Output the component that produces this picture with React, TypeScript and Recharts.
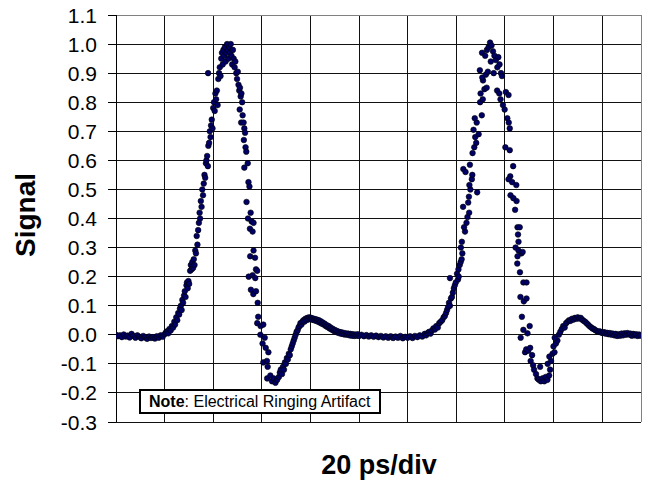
import {
  CartesianGrid,
  ReferenceLine,
  Scatter,
  ScatterChart,
  XAxis,
  YAxis,
} from "recharts";

// time in ps (20 ps per division), signal normalised to the pulse peak
const baselineStart: [number, number][] = [
  [0, 0.0], [0.8, -0.005], [1.6, -0.002], [2.4, -0.008], [3.2, 0.001], [4, -0.006],
  [4.8, -0.003], [5.6, -0.009], [6.4, 0.003], [7.2, -0.004], [8, -0.01], [8.8, -0.002],
  [9.6, -0.007], [10.4, -0.012], [11.2, -0.004], [12, -0.009], [12.8, -0.014], [13.6, -0.006],
  [14.4, -0.011], [15.2, -0.008], [16, -0.013], [16.8, -0.005], [17.6, -0.01], [18.4, -0.002],
  [19.2, -0.007], [20, 0.002],
];

const pulse1Rise: [number, number][] = [
  [20.5, 0.008], [21, 0.012], [21.5, 0.005], [22, 0.02], [22.5, 0.015], [23, 0.03],
  [23.5, 0.025], [24, 0.045], [24.3, 0.035], [24.8, 0.06], [25.2, 0.05], [25.6, 0.075],
  [26, 0.07], [26.3, 0.09], [26.7, 0.1], [27, 0.085], [27.3, 0.12], [27.6, 0.11],
  [28, 0.135], [28.3, 0.15], [28.6, 0.13], [29, 0.17], [29.2, 0.18], [29.5, 0.16],
  [29.8, 0.185], [30.1, 0.175], [30.5, 0.22], [30.8, 0.24], [31.1, 0.225], [31.4, 0.25],
  [31.7, 0.23], [32, 0.26], [32.3, 0.24], [32.6, 0.29], [32.9, 0.28], [33.2, 0.34],
  [33.5, 0.31], [33.8, 0.36], [34.1, 0.385], [34.4, 0.42], [34.6, 0.4], [34.9, 0.46],
  [35.2, 0.44], [35.5, 0.5], [35.8, 0.48], [36.1, 0.52], [36.4, 0.55], [36.7, 0.54],
  [37, 0.59], [37.2, 0.6], [37.5, 0.615], [37.8, 0.58], [38, 0.65], [38.3, 0.66],
  [38.6, 0.7], [38.9, 0.68], [39.1, 0.72], [39.4, 0.74], [39.7, 0.71], [40, 0.78],
  [40.3, 0.8], [40.6, 0.77], [40.9, 0.83], [41.2, 0.81], [41.5, 0.84], [37.9, 0.9],
  [41.8, 0.79], [42.1, 0.88], [42.4, 0.9], [42.7, 0.92], [43, 0.89], [43.3, 0.95],
  [43.6, 0.97], [43.9, 0.93], [44.2, 0.98], [44.5, 0.96], [44.8, 0.99], [45.1, 0.94],
  [45.4, 0.97], [45.7, 1.0], [46, 0.98], [46.3, 0.95], [46.6, 0.99], [46.9, 0.97],
  [47.2, 1.0], [47.5, 0.96], [47.8, 0.93], [48.1, 0.98],
];

const pulse1Fall: [number, number][] = [
  [48.4, 0.95], [48.8, 0.92], [49.1, 0.94], [49.5, 0.9], [49.8, 0.88], [50.1, 0.905],
  [50.4, 0.86], [50.7, 0.84], [51, 0.85], [51.3, 0.82], [51.6, 0.83], [51.9, 0.8],
  [50.9, 0.775], [52.1, 0.755], [51.5, 0.73], [52.5, 0.73], [52.8, 0.71], [53.1, 0.695],
  [52.6, 0.67], [53.3, 0.645], [53.6, 0.63], [54.2, 0.59], [52.8, 0.575], [54.5, 0.525],
  [54.9, 0.51], [53.7, 0.457], [55.4, 0.42], [54.3, 0.4], [55.8, 0.39], [56.6, 0.385],
  [55.1, 0.365], [56.2, 0.355], [56.6, 0.29], [55.2, 0.27], [57.2, 0.265], [57.6, 0.225],
  [58.1, 0.22], [54.6, 0.2], [56.2, 0.205], [57.3, 0.195], [55.5, 0.155], [56.5, 0.14],
  [57.6, 0.15], [58.3, 0.11], [58.5, 0.062], [58.1, 0.04], [59.5, 0.03], [60.6, 0.035],
  [59.4, 0.0], [61.2, -0.01], [60.3, -0.03], [61.6, -0.045], [62.7, -0.06], [60.6, -0.095],
  [62.1, -0.09], [62.4, -0.11], [62.2, -0.15], [63.5, -0.14], [64.2, -0.16], [64.9, -0.15],
  [65.6, -0.165], [66.3, -0.155], [67, -0.145],
];

const ringing1: [number, number][] = [
  [67.4, -0.13], [67.8, -0.12], [68.3, -0.135], [68.7, -0.11], [69.1, -0.12], [69.5, -0.095],
  [69.9, -0.1], [70.3, -0.08], [70.7, -0.085], [71.1, -0.065], [71.5, -0.07], [71.9, -0.05],
  [72.3, -0.04], [72.7, -0.03], [73.1, -0.02], [73.5, -0.01], [73.9, 0.0], [74.3, 0.01],
  [74.7, 0.015], [75.1, 0.025], [75.5, 0.03], [75.9, 0.04], [76.3, 0.035], [76.7, 0.045],
  [77.1, 0.05], [77.5, 0.045], [77.9, 0.055], [78.3, 0.05], [78.7, 0.058], [79.1, 0.053],
  [79.5, 0.06], [79.9, 0.055], [80.3, 0.058], [80.7, 0.052], [81.1, 0.056], [81.5, 0.05],
  [81.9, 0.054], [82.3, 0.048], [82.7, 0.052], [83.1, 0.045], [83.5, 0.05], [83.9, 0.042],
  [84.3, 0.046], [84.7, 0.038], [85.1, 0.042], [85.5, 0.035], [85.9, 0.038], [86.3, 0.03],
  [86.7, 0.033], [87.1, 0.026], [87.5, 0.03], [87.9, 0.022], [88.3, 0.025], [88.7, 0.018],
  [89.1, 0.021], [89.5, 0.014], [89.9, 0.017], [90.3, 0.011], [90.7, 0.014], [91.1, 0.008],
  [91.5, 0.011],
];

const baselineMid: [number, number][] = [
  [92, 0.005], [92.5, 0.009], [93, 0.003], [93.5, 0.007], [94, 0.001], [94.5, 0.005],
  [95, 0.0], [95.5, 0.004], [96, -0.002], [96.5, 0.003], [97, -0.003], [97.5, 0.002],
  [98, -0.004], [98.5, 0.001], [99, -0.003], [99.5, 0.002], [100, -0.004], [101, 0.0],
  [102, -0.005], [103, -0.001], [104, -0.006], [105, -0.002], [106, -0.007], [107, -0.003],
  [108, -0.008], [109, -0.004], [110, -0.009], [111, -0.005], [112, -0.01], [113, -0.005],
  [114, -0.011], [115, -0.006], [116, -0.01], [117, -0.004], [118, -0.012], [119, -0.007],
  [120, -0.01], [121, -0.005], [122, -0.011], [123, -0.004], [124, -0.008], [125, -0.002],
  [126, -0.006],
];

const pulse2Rise: [number, number][] = [
  [127, 0.003], [127.6, -0.002], [128.2, 0.006], [128.8, 0.01], [129.4, 0.004], [130, 0.015],
  [130.6, 0.022], [131.2, 0.018], [131.8, 0.03], [132.4, 0.025], [133, 0.04], [133.6, 0.045],
  [134.2, 0.05], [134.8, 0.06], [135.3, 0.065], [135.8, 0.075], [136.2, 0.085], [136.6, 0.095],
  [137, 0.11], [137.4, 0.1], [137.8, 0.125], [138.2, 0.13], [138.6, 0.145], [139, 0.16],
  [139.4, 0.17], [137.4, 0.195], [139.8, 0.18], [140.3, 0.21], [140.7, 0.19], [141, 0.2],
  [140.9, 0.225], [141.4, 0.24], [141.8, 0.25], [142.2, 0.26], [142.5, 0.28], [141.9, 0.3],
  [142.3, 0.32], [143.6, 0.355], [143.2, 0.37], [144.2, 0.385], [144.6, 0.405], [145.3, 0.42],
  [142.8, 0.44], [144.9, 0.455], [145.2, 0.475], [145.8, 0.5], [148.6, 0.49], [145.4, 0.515],
  [146.4, 0.535], [146.6, 0.55], [142.9, 0.57], [143.8, 0.56], [145.6, 0.585], [146.7, 0.625],
  [147.4, 0.645], [148.2, 0.66], [147.8, 0.68], [149.2, 0.69], [147.1, 0.705], [148.4, 0.73],
  [147.6, 0.745], [150.5, 0.755], [149.8, 0.8], [150.9, 0.81], [150, 0.83], [151.6, 0.845],
  [152.5, 0.85], [151, 0.875], [150.7, 0.885], [152.2, 0.895], [153, 0.905], [149.7, 0.91],
  [150.6, 0.97], [151.9, 0.96], [152.6, 0.98], [153.3, 0.99], [153.9, 1.005], [154.5, 0.995],
  [155.1, 0.975], [155.7, 0.96], [154.2, 0.94], [156.3, 0.945], [156.9, 0.92], [155.4, 0.9],
];

const pulse2Fall: [number, number][] = [
  [157.3, 0.955], [157.8, 0.93], [158.4, 0.9], [158.8, 0.89], [156.8, 0.84], [157.7, 0.83],
  [160.4, 0.835], [161.5, 0.825], [158.2, 0.81], [159.2, 0.79], [159.9, 0.775], [161, 0.745],
  [161.6, 0.73], [162, 0.71], [160.2, 0.645], [162, 0.635], [163.4, 0.58], [162.2, 0.545],
  [161.5, 0.535], [163, 0.525], [164.7, 0.515], [162.3, 0.48], [163.5, 0.47], [164.8, 0.46],
  [164.2, 0.43], [165.2, 0.37], [166.1, 0.37], [165.4, 0.345], [165.6, 0.32], [164.4, 0.3],
  [165.6, 0.29], [166.8, 0.28], [167.3, 0.285], [165.2, 0.27], [165.1, 0.245], [166.2, 0.215],
  [167.6, 0.18], [168.9, 0.18], [166.4, 0.13], [167.8, 0.115], [168.9, 0.125], [167, 0.062],
  [167.6, 0.017], [166.5, -0.01], [169.3, 0.005], [170.2, 0.03], [168.3, -0.06],
];

const ringing2: [number, number][] = [
  [168.8, -0.05], [169.6, -0.055], [170.4, -0.045], [171.2, -0.07], [170.6, -0.09], [171.6, -0.105],
  [172, -0.12], [172.8, -0.135], [173.4, -0.15], [174, -0.155], [174.5, -0.11], [174.8, -0.16],
  [175.5, -0.15], [176.2, -0.16], [176.8, -0.145], [177.5, -0.155], [178.2, -0.14], [178.6, -0.12],
  [177.6, -0.1], [179, -0.09], [178.3, -0.075], [179.6, -0.065], [180.4, -0.06], [180, -0.04],
  [181, -0.03], [181.6, -0.02], [180.5, -0.01], [182.2, 0.0], [182.8, 0.01], [183.4, 0.02],
  [184, 0.03], [184.6, 0.025], [185.2, 0.04], [185.8, 0.045], [186.4, 0.05], [187, 0.048],
  [187.6, 0.055], [188.2, 0.052], [188.8, 0.058], [189.4, 0.055], [190, 0.06], [190.6, 0.056],
  [191.2, 0.058], [191.8, 0.052], [192.4, 0.048], [193, 0.045], [193.6, 0.04], [194.2, 0.035],
  [194.8, 0.03], [195.4, 0.026], [196, 0.022], [196.6, 0.02], [197.2, 0.016], [197.8, 0.013],
  [198.4, 0.01], [199, 0.012], [199.6, 0.008], [200.2, 0.006], [200.8, 0.009], [201.4, 0.004],
  [202, 0.007],
];

const baselineEnd: [number, number][] = [
  [202.6, 0.002], [203.2, 0.006], [203.8, 0.0], [204.4, 0.004], [205, -0.002], [205.6, 0.003],
  [206.2, -0.004], [206.8, 0.002], [207.4, -0.003], [208, 0.004], [208.6, -0.002], [209.2, 0.005],
  [209.8, 0.0], [210.4, 0.006], [211, 0.001], [211.6, 0.004], [212.2, -0.003], [212.8, 0.003],
  [213.4, -0.002], [214, 0.002], [214.6, -0.004], [215.2, 0.001], [215.8, -0.003],
];

const xTicks = [0, 20, 40, 60, 80, 100, 120, 140, 160, 180, 200];
const xMax = 216;
const yTicks = [-0.3, -0.2, -0.1, 0, 0.1, 0.2, 0.3, 0.4, 0.5, 0.6, 0.7, 0.8, 0.9, 1.0, 1.1];

const points = [
  ...baselineStart,
  ...pulse1Rise,
  ...pulse1Fall,
  ...ringing1,
  ...baselineMid,
  ...pulse2Rise,
  ...pulse2Fall,
  ...ringing2,
  ...baselineEnd,
].map(([t, v]) => ({ t, v }));

const FONT = "'Liberation Sans', Arial, sans-serif";

function YTick(props: any) {
  const { x, y, payload } = props;
  return (
    <text x={x} y={y} dy={7.5} textAnchor="end" fontSize={21} fill="#000" fontFamily={FONT}>
      {Number(payload.value).toFixed(1)}
    </text>
  );
}

// x axis has gridlines but no labels
function NoTick() {
  return <g />;
}

function Dot(props: any) {
  const { cx, cy } = props;
  if (cx == null || cy == null) return null;
  return <circle cx={cx} cy={cy} r={2.8} fill="#000066" stroke="#000" strokeWidth={0.6} />;
}

export default function App() {
  return (
    <div
      style={{
        position: "absolute",
        left: 0,
        top: 0,
        width: 648,
        height: 485,
        background: "#fff",
        fontFamily: FONT,
      }}
    >
      <ScatterChart width={648} height={485} margin={{ top: 15, right: 7, bottom: 63, left: 0 }}>
        <CartesianGrid stroke="#111" strokeWidth={1} shapeRendering="crispEdges" />
        <XAxis
          type="number"
          dataKey="t"
          domain={[0, xMax]}
          ticks={xTicks}
          interval={0}
          tick={<NoTick />}
          tickLine={false}
          axisLine={{ stroke: "#808080", shapeRendering: "crispEdges" }}
          height={0}
          allowDataOverflow
        />
        <YAxis
          type="number"
          dataKey="v"
          domain={[-0.3, 1.1]}
          ticks={yTicks}
          interval={0}
          width={116}
          tick={<YTick />}
          tickSize={8}
          tickMargin={11}
          tickLine={{ stroke: "#000", shapeRendering: "crispEdges" }}
          axisLine={{ stroke: "#000", shapeRendering: "crispEdges" }}
          allowDataOverflow
        />
        <ReferenceLine x={xMax} stroke="#808080" shapeRendering="crispEdges" />
        <ReferenceLine y={1.1} stroke="#808080" shapeRendering="crispEdges" />
        <Scatter data={points} shape={<Dot />} isAnimationActive={false} />
      </ScatterChart>

      <div
        style={{
          position: "absolute",
          left: 26,
          top: 214.5,
          transform: "translate(-50%, -50%) rotate(-90deg)",
          fontSize: 28,
          fontWeight: "bold",
          lineHeight: 1,
          whiteSpace: "nowrap",
        }}
      >
        Signal
      </div>

      <div
        style={{
          position: "absolute",
          left: 379,
          top: 451.5,
          transform: "translateX(-50%)",
          fontSize: 27,
          fontWeight: "bold",
          lineHeight: 1,
          whiteSpace: "nowrap",
        }}
      >
        20 ps/div
      </div>

      <div
        style={{
          position: "absolute",
          left: 139,
          top: 389,
          width: 242,
          height: 25,
          boxSizing: "border-box",
          border: "2px solid #000",
          background: "#fff",
          fontSize: 16,
          lineHeight: "21px",
          paddingLeft: 8,
          whiteSpace: "nowrap",
        }}
      >
        <b>Note</b>: Electrical Ringing Artifact
      </div>
    </div>
  );
}
